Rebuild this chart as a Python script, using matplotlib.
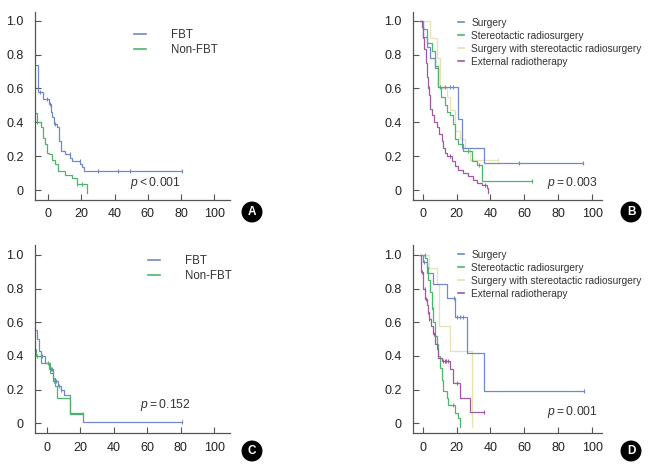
import matplotlib
matplotlib.use("Agg")
import matplotlib.pyplot as plt
import numpy as np
from matplotlib.lines import Line2D

plt.rcParams["font.family"] = ["Liberation Sans", "DejaVu Sans"]
plt.rcParams["mathtext.fontset"] = "custom"
plt.rcParams["mathtext.it"] = "Liberation Sans:italic"

# colours
BLUE = "#6f88c8"
GREEN = "#4cb56b"
YELLOW = "#e6e2b4"
PURPLE = "#a257a6"

# ---- panel A : FBT vs Non-FBT ----
a_fbt_t = [-7.4, -6.0, -3.4, 0.6, 1.4, 2.4, 3.6, 5.4, 6.6, 7.7, 10.1, 13.1, 14.1, 19.1, 20.1, 21.5, 80.3]
a_fbt_s = [0.74, 0.58, 0.535, 0.51, 0.46, 0.43, 0.39, 0.37, 0.29, 0.23, 0.21, 0.19, 0.17, 0.155, 0.135, 0.115, 0.115]
a_fbt_c = [-5.0, -1.0, 0.8, 3.8, 13.0, 19.0, 30.1, 42.2, 49.2, 80.3]
a_non_t = [-8.0, -7.0, -4.6, -3.4, -2.0, -1.0, 0.6, 2.0, 4.0, 6.0, 10.1, 14.1, 17.1, 23.5]
a_non_s = [0.453, 0.40, 0.37, 0.31, 0.27, 0.22, 0.21, 0.18, 0.155, 0.11, 0.09, 0.07, 0.035, -0.015]
a_non_c = [-7.0, 17.5, 20.1]

# ---- panel B : four treatments ----
b_sur_t = [-1.6, 0.4, 2.4, 4.3, 7.3, 9.2, 21.0, 23.0, 36.1, 94.7]
b_sur_s = [1.0, 0.906, 0.847, 0.778, 0.719, 0.61, 0.42, 0.25, 0.16, 0.16]
b_sur_c = [13.1, 16.1, 18.1, 57.0, 94.7]
b_srs_t = [-1.6, 0.4, 2.4, 5.3, 7.3, 9.2, 11.0, 13.1, 14.1, 16.1, 18.1, 19.1, 21.0, 24.0, 28.9, 31.8, 34.8, 64.3]
b_srs_s = [1.0, 0.95, 0.87, 0.82, 0.73, 0.61, 0.55, 0.50, 0.46, 0.44, 0.39, 0.30, 0.27, 0.23, 0.17, 0.15, 0.055, 0.055]
b_srs_c = [10.2, 27.0, 33.0, 64.3]
b_both_t = [-1.6, 4.3, 8.3, 10.2, 14.1, 16.1, 19.1, 22.0, 25.0, 27.9, 44.6]
b_both_s = [1.0, 0.9, 0.78, 0.6, 0.55, 0.47, 0.35, 0.30, 0.25, 0.18, 0.18]
b_both_c = [44.6]
b_ext_t = [-1.6, -0.6, 0.4, 1.0, 1.8, 2.4, 3.0, 3.8, 4.3, 5.3, 6.7, 8.3, 9.8, 11.2, 12.2, 13.1,
           14.5, 17.1, 19.1, 21.0, 24.0, 26.9, 29.9, 31.8, 34.8, 37.7, 38.7]
b_ext_s = [1.0, 0.96, 0.9, 0.83, 0.75, 0.67, 0.6, 0.56, 0.48, 0.44, 0.40, 0.37, 0.33, 0.29, 0.25, 0.22,
           0.20, 0.17, 0.14, 0.12, 0.10, 0.08, 0.06, 0.04, 0.03, 0.01, -0.015]
b_ext_c = [3.5, 16.0, 36.5]

# ---- panel C : FBT vs Non-FBT ----
c_fbt_t = [-7.0, -6.0, -4.8, -3.6, -1.0, 1.5, 3.8, 5.0, 6.5, 8.5, 10.5, 13.9, 21.5, 80.5]
c_fbt_s = [0.555, 0.50, 0.43, 0.40, 0.36, 0.32, 0.27, 0.25, 0.22, 0.20, 0.17, 0.06, 0.01, 0.01]
c_fbt_c = [-3.0, 2.5, 3.0, 5.5, 7.5, 8.5, 80.5]
c_non_t = [-7.0, -6.4, -3.6, 1.8, 3.5, 5.0, 6.0, 13.9, 21.5]
c_non_s = [0.44, 0.40, 0.36, 0.30, 0.25, 0.22, 0.15, 0.055, 0.055]
c_non_c = [-6.0, 0.5, 4.5, 21.5]

# ---- panel D : four treatments ----
d_sur_t = [-1.6, 0.4, 2.4, 6.3, 14.6, 19.1, 26.0, 36.1, 95.1]
d_sur_s = [1.0, 0.96, 0.895, 0.826, 0.742, 0.63, 0.416, 0.194, 0.194]
d_sur_c = [1.0, 18.5, 20.5, 22.0, 24.0, 95.1]
d_srs_t = [-0.6, 1.4, 2.4, 3.4, 4.3, 5.3, 6.3, 7.3, 8.3, 9.3, 10.2, 11.2, 12.2, 14.2, 15.1, 19.1, 21.0, 22.0]
d_srs_s = [1.0, 0.98, 0.93, 0.85, 0.78, 0.68, 0.60, 0.52, 0.47, 0.40, 0.33, 0.26, 0.19, 0.15, 0.11, 0.06, 0.03, -0.02]
d_srs_c = [1.2, 6.0, 18.0]
d_both_t = [-1.6, 4.0, 8.3, 9.8, 16.1, 28.9]
d_both_s = [1.0, 0.92, 0.83, 0.58, 0.43, -0.02]
d_both_c = []
d_ext_t = [-1.6, -1.2, 0.4, 1.4, 2.4, 2.9, 3.5, 4.9, 6.3, 7.3, 8.3, 9.2, 11.2, 16.1, 18.1, 22.0, 27.9, 36.1]
d_ext_s = [1.0, 0.9, 0.8, 0.74, 0.7, 0.66, 0.62, 0.58, 0.53, 0.47, 0.44, 0.39, 0.37, 0.32, 0.24, 0.15, 0.065, 0.065]
d_ext_c = [-0.5, 1.2, 1.8, 3.0, 4.0, 6.5, 12.0, 13.0, 14.0, 15.0, 20.0, 36.1]

fbt_labels = ["FBT", "Non-FBT"]
tx_labels = ["Surgery", "Stereotactic radiosurgery",
             "Surgery with stereotactic radiosurgery", "External radiotherapy"]
p_values = ["\u2009<\u20090.001", "\u2009=\u20090.003", "\u2009=\u20090.152", "\u2009=\u20090.001"]


def km(ax, t, s, cens, color):
    t = np.asarray(t)
    s = np.asarray(s)
    ax.step(t, s, where="post", color=color, lw=0.9, solid_joinstyle="miter")
    if len(cens):
        idx = np.searchsorted(t, cens, side="right") - 1
        ax.plot(cens, s[np.clip(idx, 0, None)], ls="none", marker="|",
                ms=3, mew=0.8, color=color)


def style(ax, xlim, ylim):
    ax.set_xlim(*xlim)
    ax.set_ylim(*ylim)
    for sp in ["top", "right"]:
        ax.spines[sp].set_visible(False)
    for sp in ["left", "bottom"]:
        ax.spines[sp].set_color("#555555")
        ax.spines[sp].set_linewidth(0.9)
    ax.set_xticks(np.arange(0, 101, 20))
    ax.set_yticks([0, 0.2, 0.4, 0.6, 0.8, 1.0])
    ax.set_yticklabels(["0", "0.2", "0.4", "0.6", "0.8", "1.0"])
    ax.tick_params(axis="both", direction="in", length=4, width=0.8,
                   color="#555555", labelsize=9, labelcolor="#222222")
    ax.tick_params(axis="x", pad=6)
    ax.tick_params(axis="y", pad=8)


fig = plt.figure(figsize=(6.65, 4.67), dpi=100)
axA = fig.add_axes([0.0526, 0.5717, 0.2932, 0.4026])
axB = fig.add_axes([0.6206, 0.5717, 0.2842, 0.4026])
axC = fig.add_axes([0.0526, 0.0722, 0.2932, 0.4032])
axD = fig.add_axes([0.6206, 0.0722, 0.2842, 0.4032])

km(axA, a_fbt_t, a_fbt_s, a_fbt_c, BLUE)
km(axA, a_non_t, a_non_s, a_non_c, GREEN)
style(axA, (-8.0, 109.5), (-0.059, 1.051))

km(axB, b_both_t, b_both_s, b_both_c, YELLOW)
km(axB, b_sur_t, b_sur_s, b_sur_c, BLUE)
km(axB, b_srs_t, b_srs_s, b_srs_c, GREEN)
km(axB, b_ext_t, b_ext_s, b_ext_c, PURPLE)
style(axB, (-5.9, 105.6), (-0.059, 1.051))

km(axC, c_fbt_t, c_fbt_s, c_fbt_c, BLUE)
km(axC, c_non_t, c_non_s, c_non_c, GREEN)
style(axC, (-7.0, 109.4), (-0.059, 1.059))

km(axD, d_both_t, d_both_s, d_both_c, YELLOW)
km(axD, d_sur_t, d_sur_s, d_sur_c, BLUE)
km(axD, d_srs_t, d_srs_s, d_srs_c, GREEN)
km(axD, d_ext_t, d_ext_s, d_ext_c, PURPLE)
style(axD, (-5.9, 105.6), (-0.059, 1.059))

# legends
two = [Line2D([], [], color=c, lw=1.2) for c in (BLUE, GREEN)]
four = [Line2D([], [], color=c, lw=1.2) for c in (BLUE, GREEN, YELLOW, PURPLE)]
for ax, top, x in [(axA, 0.91, 0.51), (axC, 0.945, 0.58)]:
    ax.legend(two, fbt_labels, loc="upper left", bbox_to_anchor=(x, top),
              frameon=False, fontsize=8.3, handlelength=1.0, handletextpad=2.2,
              labelspacing=0.25, borderpad=0, borderaxespad=0,
              labelcolor="#333333")
for ax, top in [(axB, 0.97), (axD, 0.975)]:
    ax.legend(four, tx_labels, loc="upper left", bbox_to_anchor=(0.24, top),
              frameon=False, fontsize=7.3, handlelength=0.6, handletextpad=0.7,
              labelspacing=0.3, borderpad=0, borderaxespad=0,
              labelcolor="#333333")

# p values
for ax, p, x, y in [(axA, p_values[0], 0.487, 0.092), (axB, p_values[1], 0.711, 0.09),
                    (axC, p_values[2], 0.538, 0.15), (axD, p_values[3], 0.711, 0.115)]:
    ax.text(x, y, r"$\mathit{p}$" + p, transform=ax.transAxes, ha="left",
            va="center", fontsize=8.7, color="#333333")

# panel letters
for lab, x, y in [("A", 252, 212), ("B", 631, 212), ("C", 252, 451), ("D", 631, 451)]:
    fig.text(x / 665, 1 - y / 467, lab, ha="center", va="center", fontsize=8.5,
             fontweight="bold", color="white",
             bbox=dict(boxstyle="circle,pad=0.32", fc="black", ec="black"))

fig.savefig("out.png", dpi=100)
